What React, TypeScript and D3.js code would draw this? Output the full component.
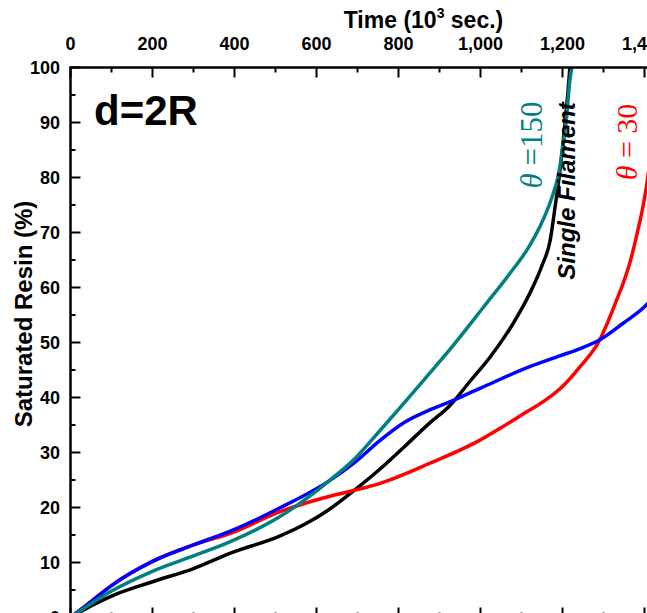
import React from "react";
import * as d3 from "d3";

const xTicks = [0, 200, 400, 600, 800, 1000, 1200, 1400, 1600];
const yTicks = [0, 10, 20, 30, 40, 50, 60, 70, 80, 90, 100];

const singleT = [0, 50, 100, 200, 300, 390, 510, 570, 630, 690, 755, 815, 875, 925, 975, 1025, 1080, 1120, 1150, 1170, 1182, 1194, 1205, 1213, 1218];
const singleV = [0, 2.1, 3.9, 6.5, 8.9, 11.7, 14.8, 16.9, 19.6, 23, 27, 31.1, 35.3, 38.5, 43, 47.5, 53.5, 58.9, 64, 68.6, 74.7, 81.4, 89, 95.3, 100];

const t150T = [0, 50, 100, 200, 300, 390, 510, 630, 695, 755, 815, 870, 925, 1008, 1072, 1113, 1145, 1172, 1190, 1202, 1210, 1218, 1223];
const t150V = [0, 2.5, 4.8, 8.4, 11.2, 13.8, 18.3, 24.8, 29.0, 34.0, 39.1, 43.9, 48.7, 56.5, 62.6, 66.8, 71.1, 75.9, 80.5, 86.2, 91, 97.7, 100];

const blueT = [0, 50, 100, 200, 300, 390, 510, 630, 695, 755, 815, 875, 925, 1000, 1120, 1195, 1243, 1291, 1348, 1400, 1420];
const blueV = [0, 2.9, 5.8, 10.2, 13.2, 15.7, 19.9, 24.8, 28.3, 32.2, 35.5, 37.7, 39.2, 41.7, 45.6, 47.6, 48.9, 50.5, 53.5, 56.5, 58];

const t30T = [0, 50, 100, 200, 300, 390, 510, 630, 680, 755, 875, 1000, 1048, 1100, 1160, 1200, 1243, 1291, 1312, 1332, 1350, 1365, 1385, 1397, 1405, 1415];
const t30V = [0, 2.9, 5.8, 10.2, 13.2, 15.3, 19.2, 22, 22.9, 24.4, 28, 32.3, 34.4, 36.8, 39.6, 42, 45.6, 50.5, 54, 57.7, 61.2, 64.7, 70.8, 75, 78.5, 84];

const W = 647;
const H = 613;
const x0 = 70.5;
const pxPerUnit = 0.41;
const x = d3.scaleLinear().domain([0, 1600]).range([x0, x0 + 1600 * pxPerUnit]);
const y = d3.scaleLinear().domain([0, 100]).range([617.5, 67.5]);

const line = d3
  .line<[number, number]>()
  .x((d) => x(d[0]))
  .y((d) => y(d[1]))
  .curve(d3.curveMonotoneX);

const zip = (a: number[], b: number[]) => a.map((v, i) => [v, b[i]] as [number, number]);

const series = [
  { t: singleT, v: singleV, color: "#000000" },
  { t: t30T, v: t30V, color: "#FF0000" },
  { t: blueT, v: blueV, color: "#0000FF" },
  { t: t150T, v: t150V, color: "#008080" },
];

const fmt = d3.format(",");
const SANS = "'Liberation Sans', Arial, sans-serif";
const SERIF = "'Liberation Serif', 'Times New Roman', serif";

export default function App() {
  const xMinor = d3.range(100, 1700, 200);
  const yMinor = d3.range(5, 100, 10);
  const right = W + 10;
  return (
    <svg
      width={W}
      height={H}
      style={{ position: "absolute", left: 0, top: 0, background: "#fff" }}
      fontFamily={SANS}
    >
      <defs>
        <clipPath id="plot">
          <rect x={x0} y={y(100)} width={W - x0 + 20} height={y(0) - y(100)} />
        </clipPath>
      </defs>
      <rect x={0} y={0} width={W} height={H} fill="#fff" />

      <g clipPath="url(#plot)">
        {series.map((s, i) => (
          <path
            key={i}
            d={line(zip(s.t, s.v)) || ""}
            fill="none"
            stroke={s.color}
            strokeWidth={3.5}
            strokeLinejoin="round"
          />
        ))}
      </g>

      {/* axes lines */}
      <line x1={x0} x2={right} y1={y(100)} y2={y(100)} stroke="#000" strokeWidth={2.5} />
      <line x1={x0} x2={right} y1={y(0)} y2={y(0)} stroke="#000" strokeWidth={2.5} />
      <line x1={x0} x2={x0} y1={y(100) - 1.25} y2={y(0) + 1.25} stroke="#000" strokeWidth={2.5} />

      {/* x ticks top & bottom */}
      {xTicks.map((t) => (
        <g key={"xt" + t}>
          <line x1={x(t)} x2={x(t)} y1={y(100)} y2={y(100) + 10} stroke="#000" strokeWidth={2} />
          <line x1={x(t)} x2={x(t)} y1={y(0)} y2={y(0) - 10} stroke="#000" strokeWidth={2} />
          <text x={x(t)} y={50} textAnchor="middle" fontSize={18} fontWeight="bold">
            {fmt(t)}
          </text>
        </g>
      ))}
      {xMinor.map((t) => (
        <g key={"xm" + t}>
          <line x1={x(t)} x2={x(t)} y1={y(100)} y2={y(100) + 5} stroke="#000" strokeWidth={2} />
          <line x1={x(t)} x2={x(t)} y1={y(0)} y2={y(0) - 5} stroke="#000" strokeWidth={2} />
        </g>
      ))}

      {/* y ticks */}
      {yTicks.map((t) => (
        <g key={"yt" + t}>
          <line x1={x0} x2={x0 + 10} y1={y(t)} y2={y(t)} stroke="#000" strokeWidth={2} />
          <text x={60} y={y(t) + 6.5} textAnchor="end" fontSize={18} fontWeight="bold">
            {t}
          </text>
        </g>
      ))}
      {yMinor.map((t) => (
        <line key={"ym" + t} x1={x0} x2={x0 + 5} y1={y(t)} y2={y(t)} stroke="#000" strokeWidth={2} />
      ))}

      {/* axis titles */}
      <text x={423.5} y={28} textAnchor="middle" fontSize={23} fontWeight="bold">
        Time (10
        <tspan fontSize={14} dy={-10}>3</tspan>
        <tspan dy={10}> sec.)</tspan>
      </text>
      <text
        transform={`translate(32,314) rotate(-90)`}
        textAnchor="middle"
        fontSize={24}
        fontWeight="bold"
      >
        Saturated Resin (%)
      </text>

      {/* annotations */}
      <text x={94} y={125} fontSize={42} fontWeight="bold">
        d=2R
      </text>
      <text
        transform={`translate(542,145) rotate(-90)`}
        textAnchor="middle"
        fontSize={31}
        fontFamily={SERIF}
        fill="#008080"
      >
        <tspan fontStyle="italic">θ</tspan> =150
      </text>
      <text
        transform={`translate(575,191) rotate(-90)`}
        textAnchor="middle"
        fontSize={24}
        fontWeight="bold"
        fontStyle="italic"
      >
        Single Filament
      </text>
      <text
        transform={`translate(637,142) rotate(-90)`}
        textAnchor="middle"
        fontSize={30}
        fontFamily={SERIF}
        fill="#FF0000"
      >
        <tspan fontStyle="italic">θ</tspan> = 30
      </text>
    </svg>
  );
}
